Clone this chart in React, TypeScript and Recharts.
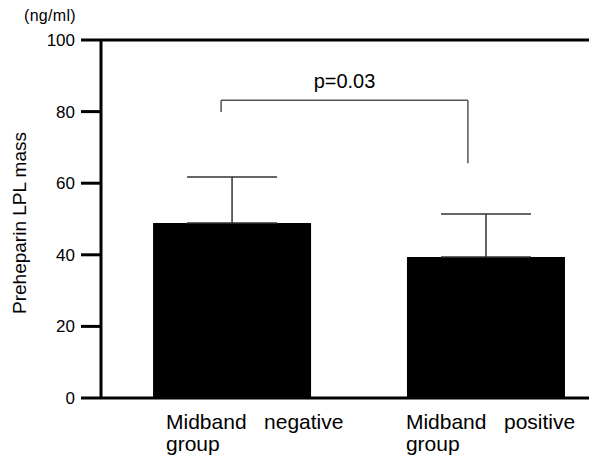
import React from 'react';
import { BarChart, Bar, XAxis, YAxis, ErrorBar, ReferenceLine } from 'recharts';

const groupPos = [0, 1];
const labelLine1 = ['Midband\u00A0\u00A0\u00A0negative', 'Midband\u00A0\u00A0\u00A0positive'];
const labelLine2 = ['group', 'group'];
const means = [48.9, 39.4];
const sdUpper = [12.8, 12.0];
const yTicks = [0, 20, 40, 60, 80, 100];
const pText = 'p=0.03';
const bracketX = [-0.043, 0.929];
const bracketY = [79.9, 83.2, 65.6];
const labelOffsets = [-66, -80];

const data = groupPos.map((x, i) => ({ x, mean: means[i], err: [0, sdUpper[i]] }));

const FONT = '"Liberation Sans", Arial, sans-serif';

const XTick = (props: any) => {
  const { x, y, payload } = props;
  const i = groupPos.indexOf(payload.value);
  if (i < 0) return null;
  const sx = x + labelOffsets[i];
  return (
    <g>
      <text x={sx} y={y + 23} fontSize={21} fontFamily={FONT} fill="#000" textAnchor="start">{labelLine1[i]}</text>
      <text x={sx} y={y + 45} fontSize={21} fontFamily={FONT} fill="#000" textAnchor="start">{labelLine2[i]}</text>
    </g>
  );
};

export default function App() {
  return (
    <div style={{ position: 'absolute', left: 0, top: 0, width: 589, height: 455, overflow: 'hidden', background: '#fff' }}>
      <BarChart width={589} height={455} data={data} margin={{ top: 40, right: 0, bottom: 0, left: 0 }}>
        <XAxis
          dataKey="x"
          type="number"
          domain={[-0.516, 1.406]}
          ticks={groupPos}
          tickLine={false}
          axisLine={{ stroke: '#000', strokeWidth: 3 }}
          height={57}
          tick={<XTick />}
          allowDataOverflow
        />
        <YAxis
          domain={[0, 100]}
          ticks={yTicks}
          width={101}
          tickSize={20}
          tickMargin={6}
          tickLine={{ stroke: '#000', strokeWidth: 3 }}
          axisLine={{ stroke: '#000', strokeWidth: 3 }}
          tick={{ fontSize: 17, fontFamily: FONT, fill: '#000' }}
          label={{ value: 'Preheparin LPL mass', angle: -90, position: 'insideLeft', dx: 14, dy: 95, fontSize: 19, fontFamily: FONT, fill: '#000' } as any}
        />
        <ReferenceLine y={100} stroke="#000" strokeWidth={3} ifOverflow="extendDomain" />
        <Bar dataKey="mean" fill="#000" barSize={158} isAnimationActive={false}>
          <ErrorBar dataKey="err" width={45} stroke="#333" strokeWidth={1.5} direction="y" />
        </Bar>
        <ReferenceLine segment={[{ x: bracketX[0], y: bracketY[0] }, { x: bracketX[0], y: bracketY[1] }]} stroke="#555" strokeWidth={1.5} />
        <ReferenceLine
          segment={[{ x: bracketX[0], y: bracketY[1] }, { x: bracketX[1], y: bracketY[1] }]}
          stroke="#555"
          strokeWidth={1.5}
          label={{ value: pText, position: 'top', offset: 12, fontSize: 20, fontFamily: FONT, fill: '#000' }}
        />
        <ReferenceLine segment={[{ x: bracketX[1], y: bracketY[1] }, { x: bracketX[1], y: bracketY[2] }]} stroke="#555" strokeWidth={1.5} />
      </BarChart>
      <div style={{ position: 'absolute', left: 24, top: 7, fontSize: 16, fontFamily: FONT, color: '#000', letterSpacing: 0.3 }}>(ng/ml)</div>
    </div>
  );
}
